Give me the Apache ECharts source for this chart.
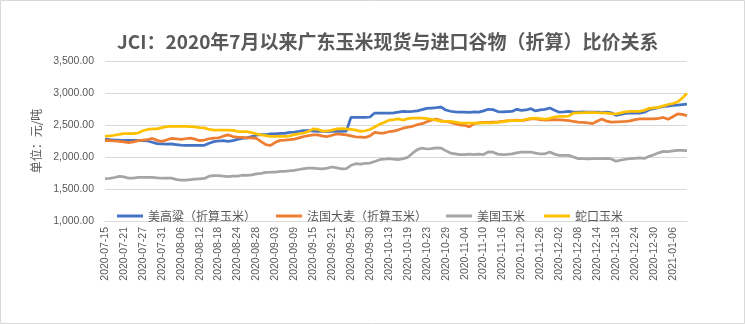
<!DOCTYPE html>
<html><head><meta charset="utf-8">
<script src="https://cdn.jsdelivr.net/npm/echarts@6/dist/echarts.min.js"></script>
<style>html,body{margin:0;padding:0;background:#fff}#c{width:745px;height:324px}</style>
</head><body><div id="c"></div>
<script>
const titleText = 'JCI：2020年7月以来广东玉米现货与进口谷物（折算）比价关系';
const yAxisName = '单位：元/吨';
const seriesNames = ['美高粱（折算玉米）', '法国大麦（折算玉米）', '美国玉米', '蛇口玉米'];
const yTicks = [1000, 1500, 2000, 2500, 3000, 3500];

const dates = [
'2020-07-15','2020-07-16','2020-07-17','2020-07-20','2020-07-21','2020-07-22','2020-07-23','2020-07-24','2020-07-27','2020-07-28','2020-07-29','2020-07-30','2020-07-31',
'2020-08-03','2020-08-04','2020-08-05','2020-08-06','2020-08-07','2020-08-10','2020-08-11','2020-08-12','2020-08-13','2020-08-14','2020-08-17','2020-08-18','2020-08-19','2020-08-20','2020-08-21','2020-08-24','2020-08-25','2020-08-26','2020-08-27','2020-08-28','2020-08-31',
'2020-09-01','2020-09-02','2020-09-03','2020-09-04','2020-09-07','2020-09-08','2020-09-09','2020-09-10','2020-09-11','2020-09-14','2020-09-15','2020-09-16','2020-09-17','2020-09-18','2020-09-21','2020-09-22','2020-09-23','2020-09-24','2020-09-25','2020-09-27','2020-09-28','2020-09-29','2020-09-30',
'2020-10-09','2020-10-10','2020-10-12','2020-10-13','2020-10-14','2020-10-15','2020-10-16','2020-10-19','2020-10-20','2020-10-21','2020-10-22','2020-10-23','2020-10-26','2020-10-27','2020-10-28','2020-10-29','2020-10-30',
'2020-11-02','2020-11-03','2020-11-04','2020-11-05','2020-11-06','2020-11-09','2020-11-10','2020-11-11','2020-11-12','2020-11-13','2020-11-16','2020-11-17','2020-11-18','2020-11-19','2020-11-20','2020-11-23','2020-11-24','2020-11-25','2020-11-26','2020-11-27','2020-11-30',
'2020-12-01','2020-12-02','2020-12-03','2020-12-04','2020-12-07','2020-12-08','2020-12-09','2020-12-10','2020-12-11','2020-12-14','2020-12-15','2020-12-16','2020-12-17','2020-12-18','2020-12-21','2020-12-22','2020-12-23','2020-12-24','2020-12-25','2020-12-28','2020-12-29','2020-12-30','2020-12-31',
'2021-01-04','2021-01-05','2021-01-06','2021-01-07','2021-01-08','2021-01-11'
];

const usSorghum = [
2280,2270,2265,2262,2260,2260,2258,2258,2255,2250,
2230,2210,2205,2200,2205,2195,2185,2183,2183,2183,
2183,2183,2215,2240,2250,2255,2245,2255,2275,2290,
2300,2320,2340,2349,2350,2360,2360,2370,2370,2385,
2390,2400,2411,2411,2405,2400,2400,2400,2400,2400,
2400,2405,2620,2620,2620,2620,2625,2687,2687,2687,
2687,2690,2700,2713,2710,2713,2720,2740,2760,2765,
2770,2781,2735,2715,2705,2700,2703,2698,2705,2700,
2720,2745,2740,2710,2705,2710,2712,2745,2730,2735,
2755,2720,2735,2745,2765,2730,2700,2705,2712,2700,
2700,2705,2700,2702,2700,2698,2700,2690,2651,2665,
2680,2685,2690,2687,2700,2739,2755,2770,2791,2795,
2805,2810,2820,2828
];
const frBarley = [
2255,2255,2250,2245,2235,2225,2235,2255,2262,2270,
2290,2260,2245,2265,2290,2285,2275,2285,2295,2280,
2255,2265,2285,2295,2300,2325,2345,2320,2310,2305,
2297,2297,2290,2240,2193,2180,2230,2260,2265,2271,
2280,2300,2320,2335,2345,2345,2325,2320,2340,2360,
2355,2345,2330,2315,2310,2305,2330,2385,2375,2375,
2395,2405,2425,2450,2465,2480,2505,2520,2550,2575,
2594,2570,2555,2540,2520,2500,2495,2470,2520,2535,
2540,2542,2545,2548,2555,2565,2570,2575,2570,2580,
2594,2594,2583,2578,2580,2583,2580,2575,2570,2555,
2545,2540,2535,2521,2560,2595,2560,2545,2550,2552,
2555,2565,2585,2594,2594,2594,2596,2605,2618,2590,
2630,2672,2665,2646
];
const usCorn = [
1661,1665,1680,1698,1690,1668,1670,1680,1680,1682,
1680,1675,1668,1670,1670,1650,1640,1640,1645,1655,
1660,1665,1700,1708,1710,1700,1695,1700,1700,1715,
1713,1720,1735,1745,1760,1762,1765,1775,1775,1785,
1790,1805,1818,1825,1825,1820,1815,1825,1844,1830,
1815,1820,1870,1895,1890,1900,1906,1930,1958,1965,
1974,1965,1960,1975,1995,2060,2115,2140,2125,2130,
2141,2140,2100,2062,2050,2036,2036,2045,2036,2045,
2038,2080,2075,2045,2036,2040,2050,2065,2075,2078,
2078,2060,2047,2050,2078,2045,2026,2026,2026,2000,
1974,1975,1970,1975,1974,1975,1978,1970,1935,1950,
1965,1974,1980,1985,1978,2010,2036,2065,2088,2085,
2095,2104,2104,2100
];
const shekouCorn = [
2323,2330,2340,2352,2364,2364,2364,2375,2410,2430,
2440,2440,2460,2475,2480,2480,2480,2478,2475,2470,
2460,2455,2430,2420,2420,2418,2418,2415,2400,2395,
2395,2380,2360,2345,2335,2323,2323,2323,2323,2330,
2349,2360,2375,2400,2440,2430,2405,2410,2420,2440,
2443,2440,2430,2420,2401,2410,2430,2470,2510,2540,
2575,2583,2595,2575,2600,2609,2609,2609,2600,2590,
2575,2557,2557,2555,2545,2535,2531,2531,2531,2530,
2535,2535,2535,2540,2550,2565,2567,2567,2570,2590,
2605,2609,2600,2590,2605,2625,2635,2635,2640,2685,
2690,2692,2695,2695,2692,2690,2685,2678,2672,2690,
2705,2713,2713,2713,2730,2760,2768,2775,2800,2820,
2835,2860,2920,2995
];

const colors = ['#4472C4', '#ED7D31', '#A5A5A5', '#FFC000'];
const values = [usSorghum, frBarley, usCorn, shekouCorn];
const legendLefts = [112, 271, 441, 539];

function fmt(v) {
  const s = Math.round(v).toString().replace(/\B(?=(\d{3})+(?!\d))/g, ',');
  return s + '.00';
}

const chart = echarts.init(document.getElementById('c'), null, {renderer: 'canvas'});
chart.setOption({
  backgroundColor: '#fff',
  animation: false,
  title: {
    text: titleText, left: 112, top: 27,
    textStyle: {color: '#595959', fontSize: 19, fontWeight: 'bold', fontFamily: 'Noto Sans CJK SC'}
  },
  legend: seriesNames.map((n, i) => ({
    data: [n], left: legendLefts[i], top: 205, icon: 'rect', itemWidth: 26, itemHeight: 3, itemGap: 0,
    textStyle: {color: '#595959', fontSize: 12, fontFamily: 'Noto Sans CJK SC'}
  })),
  graphic: [{type: 'rect', shape: {x: 0.5, y: 0.5, width: 744, height: 323}, style: {fill: 'none', stroke: '#d9d9d9', lineWidth: 1}, silent: true, z: 100}],
  grid: {left: 105, right: 58, top: 61, bottom: 103},
  xAxis: {
    type: 'category', data: dates, boundaryGap: false,
    axisLine: {show: true, lineStyle: {color: '#d9d9d9'}},
    axisTick: {show: false},
    axisLabel: {interval: 3, rotate: 90, margin: 6, color: '#595959', fontSize: 10.5, fontFamily: 'Liberation Sans'},
    splitLine: {show: false}
  },
  yAxis: {
    type: 'value', min: yTicks[0], max: yTicks[yTicks.length - 1], interval: 500,
    name: yAxisName, nameLocation: 'middle', nameGap: 60, nameRotate: 90,
    nameTextStyle: {color: '#595959', fontSize: 12, fontFamily: 'Noto Sans CJK SC'},
    axisLine: {show: false}, axisTick: {show: false},
    axisLabel: {formatter: fmt, margin: 11, color: '#595959', fontSize: 10.5, fontFamily: 'Liberation Sans'},
    splitLine: {lineStyle: {color: '#d9d9d9', width: 1}}
  },
  series: seriesNames.map((n, i) => ({
    name: n, type: 'line', data: values[i], symbol: 'none', smooth: false,
    lineStyle: {color: colors[i], width: 2.75}, itemStyle: {color: colors[i]}, z: 2 + i
  }))
});
</script></body></html>
